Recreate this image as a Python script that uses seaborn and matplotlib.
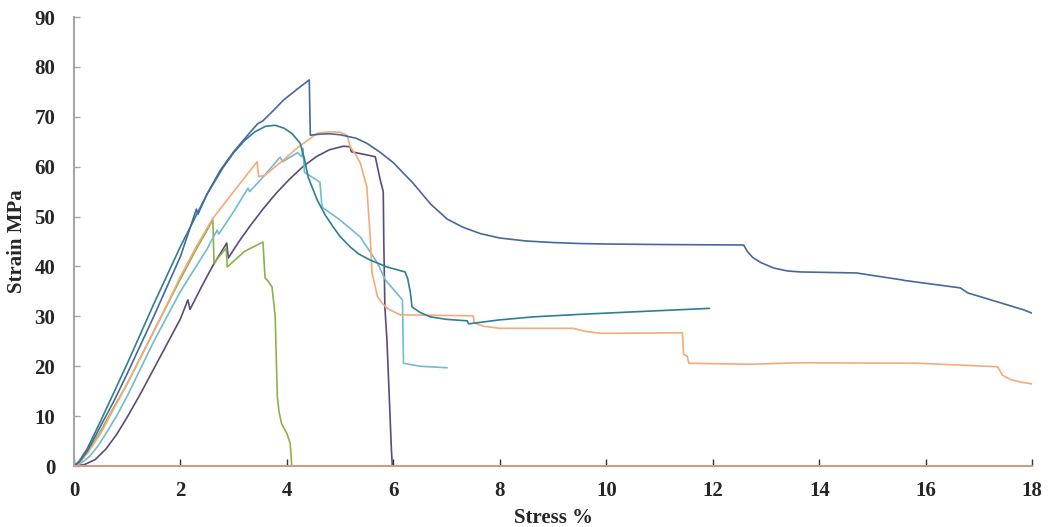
import numpy as np
import pandas as pd
import matplotlib
matplotlib.use("Agg")
import matplotlib.pyplot as plt
import seaborn as sns

# Stress (%) / strain (MPa) readings for each specimen
blue_x = [0, 0.1, 0.25, 0.5, 0.75, 1.0, 1.5, 2.0, 2.3, 2.33, 2.5, 2.75, 3.0, 3.31, 3.45, 3.55,
          3.75, 3.93, 4.2, 4.42, 4.44, 4.6, 4.8, 5.0, 5.3, 5.5, 5.75, 6.0, 6.37, 6.7, 7.01,
          7.3, 7.63, 8.0, 8.5, 9.0, 9.5, 10.0, 11.0, 12.58, 12.65, 12.75, 12.9, 13.14, 13.4,
          13.65, 14.7, 15.0, 15.56, 15.6, 16.65, 16.79, 17.1, 17.41, 17.84, 18.03]
blue_y = [0, 0.8, 3.0, 8.0, 13.0, 18.5, 30.0, 42.0, 51.5, 50.5, 54.5, 59.3, 63.0, 66.9, 68.6, 69.2,
          71.3, 73.3, 75.6, 77.4, 66.3, 66.5, 66.6, 66.4, 65.7, 64.7, 62.9, 60.8, 56.7, 52.5, 49.5,
          47.9, 46.6, 45.7, 45.1, 44.8, 44.6, 44.5, 44.4, 44.3, 43.0, 41.8, 40.8, 39.7, 39.1,
          38.9, 38.7, 38.2, 37.3, 37.2, 35.7, 34.7, 33.7, 32.7, 31.3, 30.5]

teal_x = [0, 0.1, 0.25, 0.5, 1.0, 1.5, 2.0, 2.5, 2.8, 3.0, 3.2, 3.4, 3.6, 3.78, 3.95, 4.1,
          4.25, 4.33, 4.4, 4.57, 4.72, 4.87, 5.0, 5.19, 5.35, 5.56, 5.88, 6.22, 6.27, 6.32, 6.35,
          6.5, 6.69, 7.0, 7.39, 7.41, 8.0, 8.63, 9.5, 10.5, 11.94]
teal_y = [0, 1.0, 3.5, 9.0, 20.5, 32.5, 44.0, 54.5, 59.8, 62.8, 65.2, 67.0, 68.1, 68.3, 67.7, 66.6,
          64.7, 61.5, 57.9, 53.3, 50.3, 47.9, 46.0, 43.9, 42.5, 41.3, 39.9, 38.9, 37.5, 34.7, 31.9,
          30.8, 29.9, 29.4, 29.1, 28.5, 29.3, 29.9, 30.4, 30.9, 31.6]

orange_x = [0, 0.1, 0.25, 0.5, 0.75, 1.0, 1.5, 1.8, 2.0, 2.3, 2.6, 3.0, 3.44, 3.47, 3.59, 3.93,
            4.2, 4.57, 4.8, 5.0, 5.13, 5.19, 5.3, 5.38, 5.5, 5.56, 5.6, 5.7, 5.8, 5.9, 6.13,
            7.5, 7.52, 7.7, 8.0, 9.38, 9.6, 9.89, 11.43, 11.45, 11.52, 11.55, 12.7, 13.65,
            15.85, 17.35, 17.4, 17.44, 17.6, 17.8, 18.03]
orange_y = [0, 0.6, 2.5, 6.5, 11.5, 16.5, 27.0, 33.5, 38.0, 44.0, 49.5, 55.0, 61.0, 58.0, 58.3, 61.3,
            63.8, 66.7, 67.0, 66.9, 66.3, 64.0, 62.3, 60.7, 56.0, 46.7, 38.7, 34.0, 32.5, 31.5, 30.3,
            30.1, 28.7, 28.0, 27.6, 27.6, 27.0, 26.6, 26.7, 22.4, 22.0, 20.6, 20.4, 20.7,
            20.6, 19.9, 19.0, 18.2, 17.3, 16.8, 16.4]

cyan_x = [0, 0.15, 0.3, 0.45, 0.6, 0.8, 1.0, 1.25, 1.5, 2.0, 2.5, 2.69, 2.72, 3.0, 3.27, 3.3,
          3.6, 3.87, 3.92, 4.2, 4.28, 4.3, 4.33, 4.62, 4.66, 5.0, 5.38, 5.7, 5.85, 6.17, 6.19,
          6.5, 7.01]
cyan_y = [0, 0.7, 2.0, 4.0, 6.5, 10.0, 14.0, 19.5, 25.0, 35.0, 43.5, 47.3, 46.5, 51.0, 55.7, 55.0,
          58.5, 61.9, 61.0, 62.8, 62.0, 63.7, 58.9, 56.9, 51.9, 49.3, 45.9, 40.7, 37.3, 33.3, 20.6,
          20.0, 19.7]

purple_x = [0, 0.2, 0.4, 0.6, 0.8, 1.0, 1.25, 1.5, 1.75, 2.0, 2.14, 2.18, 2.4, 2.6, 2.87, 2.9,
            3.1, 3.3, 3.55, 3.8, 4.05, 4.3, 4.55, 4.8, 5.06, 5.19, 5.21, 5.66, 5.75, 5.81, 5.82,
            5.84, 5.88, 5.93, 5.96, 5.98]
purple_y = [0, 0.3, 1.3, 3.4, 6.3, 9.8, 14.5, 19.5, 24.5, 29.5, 33.3, 31.4, 36.0, 40.0, 44.7, 41.7,
            45.0, 48.0, 51.5, 54.7, 57.5, 60.0, 62.0, 63.4, 64.1, 64.0, 63.0, 62.0, 57.5, 55.0, 45.0,
            32.0, 25.0, 12.0, 4.0, 0]

green_x = [0, 0.1, 0.25, 0.5, 0.75, 1.0, 1.5, 2.0, 2.3, 2.61, 2.63, 2.86, 2.88, 3.2, 3.55, 3.59,
           3.65, 3.72, 3.76, 3.78, 3.8, 3.82, 3.85, 3.9, 3.95, 4.0, 4.06, 4.08, 4.09]
green_y = [0, 0.6, 2.8, 7.0, 11.8, 16.5, 27.0, 37.5, 43.5, 49.3, 40.7, 43.7, 39.9, 43.0, 44.9, 37.7,
           37.0, 35.9, 32.0, 29.9, 22.0, 14.0, 11.0, 8.5, 7.5, 6.5, 4.6, 2.0, 0]

zero_x = [0, 18]
zero_y = [0, 0]

series = [
    (zero_x, zero_y, "#E3A683"),
    (purple_x, purple_y, "#5B4A7C"),
    (green_x, green_y, "#8DB14B"),
    (cyan_x, cyan_y, "#70BBD0"),
    (orange_x, orange_y, "#F6A979"),
    (teal_x, teal_y, "#2D7F92"),
    (blue_x, blue_y, "#45689E"),
]

sns.set_style("white")
plt.rcParams["font.family"] = ["Liberation Serif", "DejaVu Serif"]

fig = plt.figure(figsize=(10.49, 5.27), dpi=100)
ax = fig.add_axes([0.0705, 0.1157, 0.9135, 0.852])

for xs, ys, col in series:
    df = pd.DataFrame({"x": xs, "y": ys})
    lw = 2.0 if xs is zero_x else 1.2
    sns.lineplot(data=df, x="x", y="y", sort=False, estimator=None,
                 color=col, linewidth=lw, ax=ax)

ax.set_xlim(0, 18)
ax.set_ylim(0, 90)
ax.set_xticks(np.arange(0, 19, 2))
ax.set_yticks(np.arange(0, 91, 10))
ax.set_xlabel("Stress %", fontsize=15, fontweight="bold", labelpad=5)
ax.set_ylabel("Strain MPa", fontsize=15, fontweight="bold")
ax.yaxis.set_label_coords(-0.049, 0.5)

for side in ["top", "right"]:
    ax.spines[side].set_visible(False)
ax.spines["left"].set_color("#A6A6A6")
ax.spines["left"].set_linewidth(1.5)
ax.spines["bottom"].set_color("#C8A08A")
ax.spines["bottom"].set_linewidth(1.5)

ax.tick_params(axis="y", direction="in", length=4.5, width=1, color="#A6A6A6",
               labelsize=15, pad=13.5, left=True)
ax.tick_params(axis="x", direction="in", length=5, width=1, color="#333333",
               labelsize=15, pad=11, bottom=True)
for lab in ax.get_xticklabels() + ax.get_yticklabels():
    lab.set_fontweight("bold")

fig.savefig("out.png", dpi=100)
